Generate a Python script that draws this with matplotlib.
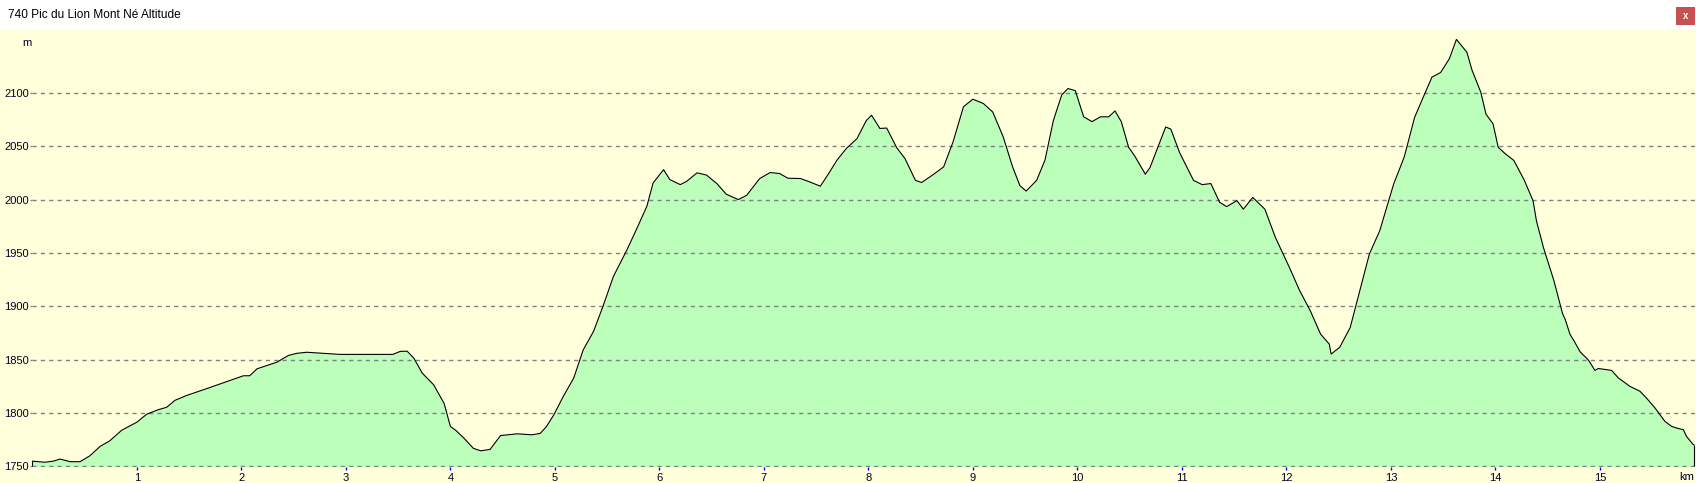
import matplotlib
matplotlib.use("Agg")
import matplotlib.pyplot as plt
from matplotlib.patches import Rectangle

# ---- data ----
title = "740 Pic du Lion Mont Né Altitude"
y_unit = "m"
x_unit = "km"

dist_km = [
    0.0, 0.12, 0.2, 0.265, 0.36, 0.456, 0.55, 0.65, 0.74, 0.855,
    1.0, 1.094, 1.2, 1.285, 1.365, 1.475, 1.67, 1.89, 2.02, 2.08,
    2.15, 2.34, 2.45, 2.53, 2.625, 2.94, 3.45, 3.52, 3.586, 3.65,
    3.73, 3.84, 3.94, 4.0, 4.05, 4.13, 4.22, 4.29, 4.38, 4.48,
    4.64, 4.78, 4.86, 4.92, 4.99, 5.08, 5.18, 5.27, 5.37, 5.46,
    5.56, 5.69, 5.78, 5.88, 5.94, 6.04, 6.1, 6.2, 6.26, 6.36,
    6.45, 6.55, 6.64, 6.755, 6.835, 6.96, 7.06, 7.15, 7.23, 7.35,
    7.44, 7.54, 7.62, 7.70, 7.79, 7.89, 7.98, 8.03, 8.11, 8.175,
    8.27, 8.35, 8.45, 8.51, 8.62, 8.72, 8.81, 8.91, 9.00, 9.10,
    9.19, 9.29, 9.38, 9.45, 9.51, 9.61, 9.69, 9.77, 9.85, 9.91,
    9.98, 10.06, 10.14, 10.22, 10.30, 10.36, 10.42, 10.49, 10.55, 10.65,
    10.695, 10.845, 10.894, 10.978, 11.111, 11.194, 11.277, 11.361, 11.428, 11.527,
    11.588, 11.678, 11.794, 11.894, 12.028, 12.127, 12.228, 12.327, 12.41, 12.428,
    12.51, 12.61, 12.694, 12.794, 12.894, 12.961, 13.027, 13.127, 13.227, 13.31,
    13.393, 13.476, 13.56, 13.627, 13.727, 13.777, 13.86, 13.91, 13.977, 14.027,
    14.093, 14.177, 14.277, 14.36, 14.393, 14.46, 14.56, 14.643, 14.667, 14.714,
    14.762, 14.81, 14.89, 14.953, 14.985, 15.112, 15.176, 15.288, 15.383, 15.447,
    15.526, 15.574, 15.622, 15.686, 15.734, 15.798, 15.83, 15.894, 15.9,
]
altitude_m = [
    1755, 1754, 1755, 1757, 1754.5, 1754.5, 1760, 1769, 1774, 1784,
    1791.5, 1799, 1803, 1805.5, 1812, 1816.5, 1823, 1830.5, 1835, 1835,
    1841.5, 1847.7, 1854, 1856, 1857, 1855, 1855, 1857.8, 1858, 1851.5,
    1837.5, 1826.5, 1809, 1787.5, 1784, 1776.5, 1767, 1764.7, 1766, 1779,
    1780.6, 1779.7, 1781, 1787.5, 1798.4, 1815.6, 1832.8, 1859, 1876.6, 1900,
    1928, 1953, 1972, 1993.7, 2015.6, 2028, 2018.7, 2014, 2017, 2025,
    2023, 2015, 2005, 2000, 2004, 2019.7, 2025.3, 2024.4, 2020, 2019.7,
    2016.5, 2012.5, 2024.4, 2037, 2048, 2057, 2074, 2079, 2066.6, 2067,
    2048.75, 2038.4, 2018, 2016, 2023.4, 2030.6, 2054, 2087, 2094, 2090,
    2082, 2058.75, 2030.6, 2013, 2008, 2018, 2037, 2074, 2098, 2104,
    2102, 2077.5, 2073, 2077.5, 2077.5, 2083, 2073, 2049, 2040.6, 2023.75,
    2030, 2068, 2066, 2044, 2018, 2014, 2015, 1997.5, 1993.4, 1999,
    1991, 2002, 1991, 1964.7, 1936.6, 1914.7, 1896, 1874, 1864.7, 1855.3,
    1861.6, 1880, 1911.6, 1949, 1971, 1993, 2014.7, 2039.7, 2077, 2096,
    2114.7, 2119, 2132, 2150, 2138, 2121, 2100.6, 2080, 2071, 2049,
    2043, 2036.6, 2018, 1999, 1980, 1955, 1924, 1893, 1888, 1873.8,
    1866, 1857.5, 1849.7, 1840, 1841.8, 1840, 1833, 1825, 1820.5, 1814,
    1805, 1798.6, 1792.3, 1787.6, 1786, 1784.5, 1778, 1770.4, 1770.4,
]
x_ticks = list(range(1, 16))
y_ticks = [1750, 1800, 1850, 1900, 1950, 2000, 2050, 2100]

# ---- style ----
W, H, DPI = 1696, 483, 100
BG = "#FFFFDC"
FILL = "#BBFFBB"
FONT = "Liberation Sans"
TXT = "#000020"
base = y_ticks[0]

fig = plt.figure(figsize=(W / DPI, H / DPI), dpi=DPI, facecolor=BG)

# white title bar
fig.patches.append(Rectangle((0, (H - 29.5) / H), 1, 29.5 / H, transform=fig.transFigure,
                             facecolor="white", edgecolor="none", zorder=0))
fig.text(8 / W, 1 - 15 / H, title, ha="left", va="center", fontsize=8.6, family=FONT, color="#000000")
# close button
fig.patches.append(Rectangle((1676 / W, 1 - 25 / H), 19 / W, 18 / H, transform=fig.transFigure,
                             facecolor="#C75050", edgecolor="none", zorder=1))
fig.text(1685.5 / W, 1 - 16 / H, "x", ha="center", va="center", fontsize=7, family=FONT,
         color="white", fontweight="bold", zorder=2)

left_px, bottom_px, top_px = 32.4, 466.5, 30
ax = fig.add_axes([left_px / W, (H - bottom_px) / H, 1 - left_px / W, (bottom_px - top_px) / H])
ax.set_facecolor(BG)

px_per_m = 1.0677
x_max = (W - left_px) / 104.5
y_max = base + (bottom_px - top_px) / px_per_m
ax.set_xlim(0, x_max)
ax.set_ylim(base, y_max)

ax.fill_between(dist_km, altitude_m, base, color=FILL, linewidth=0, zorder=1)
ax.plot(dist_km, altitude_m, color="black", linewidth=0.8, zorder=4)
ax.vlines([dist_km[0], dist_km[-1]], base, [altitude_m[0], altitude_m[-1]],
          color="black", linewidth=0.8, zorder=4)

for yv in y_ticks:
    ax.axhline(yv, color="#808080", linewidth=1.0, linestyle=(0, (3, 3)), zorder=3)

for s in ax.spines.values():
    s.set_visible(False)

ax.set_xticks(x_ticks)
ax.set_xticklabels([str(v) for v in x_ticks], family=FONT, fontsize=8, color=TXT)
ax.set_yticks(y_ticks)
ax.set_yticklabels([str(v) for v in y_ticks], family=FONT, fontsize=8, color=TXT)
ax.tick_params(axis="x", direction="out", length=2.5, width=1, color="#0000FF", pad=2)
ax.tick_params(axis="y", direction="out", length=1.5, width=1, color="#3399FF", pad=1)

fig.text(27 / W, 1 - 43 / H, y_unit, ha="center", va="center", fontsize=8, family=FONT, color=TXT)
fig.text(1687 / W, 1 - 476.5 / H, x_unit, ha="center", va="center", fontsize=8, family=FONT, color=TXT)

fig.savefig("out.png", dpi=DPI, facecolor=BG)
